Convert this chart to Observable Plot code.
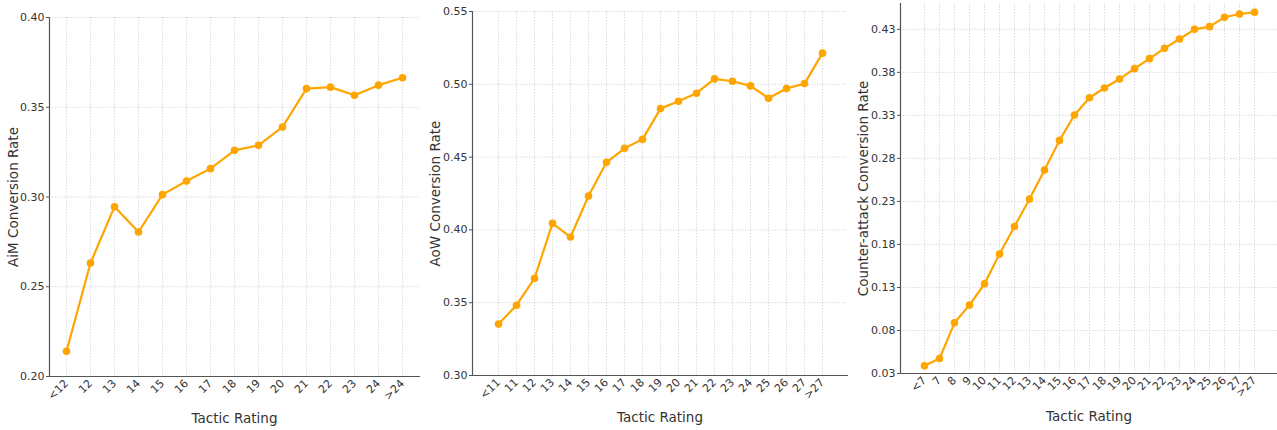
<!DOCTYPE html>
<html>
<head>
<meta charset="utf-8">
<script src="https://cdn.jsdelivr.net/npm/d3@7"></script>
<script src="https://cdn.jsdelivr.net/npm/@observablehq/plot@0.6"></script>
<style>
  html, body { margin: 0; padding: 0; background: #fff; }
  #wrap { position: relative; width: 1277px; height: 430px; overflow: hidden; }
  #wrap > svg { position: absolute; top: 0; }
</style>
</head>
<body>
<div id="wrap"></div>
<script>
// ---- Data ----
const aimCategories = ["<12","12","13","14","15","16","17","18","19","20","21","22","23","24",">24"];
const aimValues = [0.2141,0.2632,0.2946,0.2805,0.3013,0.3089,0.3158,0.3260,0.3288,0.3390,0.3604,0.3612,0.3567,0.3623,0.3664];
const aimTicks = [0.20,0.25,0.30,0.35,0.40];

const aowCategories = ["<11","11","12","13","14","15","16","17","18","19","20","21","22","23","24","25","26","27",">27"];
const aowValues = [0.3353,0.3483,0.3667,0.4045,0.3951,0.4233,0.4464,0.4560,0.4622,0.4833,0.4884,0.4939,0.5037,0.5021,0.4989,0.4904,0.4971,0.5005,0.5214];
const aowTicks = [0.30,0.35,0.40,0.45,0.50,0.55];

const caCategories = ["<7","7","8","9","10","11","12","13","14","15","16","17","18","19","20","21","22","23","24","25","26","27",">27"];
const caValues = [0.0389,0.0474,0.0889,0.1095,0.1343,0.1688,0.2009,0.2327,0.2664,0.3009,0.3304,0.3505,0.3618,0.3722,0.3843,0.3959,0.4079,0.4188,0.4300,0.4331,0.4440,0.4478,0.4498];
const caTicks = [0.03,0.08,0.13,0.18,0.23,0.28,0.33,0.38,0.43];

const xLabel = "Tactic Rating";

const panels = [
  {cats: aimCategories, vals: aimValues, ticks: aimTicks, yDomain: [0.20, 0.40], yLabel: "AiM Conversion Rate",
   left: 0, width: 425, mL: 49, mR: 6, mT: 17, mB: 54, pad: 0.7, yLabDx: -36, xLabDy: 42},
  {cats: aowCategories, vals: aowValues, ticks: aowTicks, yDomain: [0.30, 0.55], yLabel: "AoW Conversion Rate",
   left: 425, width: 425, mL: 47, mR: 3, mT: 11, mB: 55, pad: 0.9, yLabDx: -37, xLabDy: 42},
  {cats: caCategories, vals: caValues, ticks: caTicks, yDomain: [0.03, 0.46], yLabel: "Counter-attack Conversion Rate",
   left: 850, width: 427, mL: 50, mR: 0, mT: 3, mB: 57, pad: 1.1, yLabDx: -37, xLabDy: 43}
];

const wrap = document.getElementById("wrap");
for (const p of panels) {
  const data = p.cats.map((c, i) => ({cat: c, val: p.vals[i]}));
  const chart = Plot.plot({
    width: p.width,
    height: 430,
    marginLeft: p.mL, marginRight: p.mR, marginTop: p.mT, marginBottom: p.mB,
    style: {fontFamily: "DejaVu Sans, sans-serif", fontSize: "11px", color: "#333", background: "transparent"},
    x: {type: "point", domain: p.cats, padding: p.pad},
    y: {domain: p.yDomain},
    marks: [
      Plot.gridX(p.cats, {stroke: "#c8c8c8", strokeOpacity: 0.8, strokeDasharray: "1.5,1.5", strokeWidth: 0.8}),
      Plot.gridY(p.ticks, {stroke: "#c8c8c8", strokeOpacity: 0.8, strokeDasharray: "1.5,1.5", strokeWidth: 0.8}),
      Plot.axisY(p.ticks, {tickSize: 3, tickPadding: 2, tickFormat: d3.format(".2f"), label: null, stroke: "#555", fill: "#333", fontSize: 11}),
      Plot.axisX(p.cats, {tickSize: 0, tickPadding: 5, tickRotate: -45, label: null, fill: "#333", fontSize: 11}),
      Plot.frame({anchor: "left", stroke: "#555", strokeWidth: 1.2}),
      Plot.frame({anchor: "bottom", stroke: "#555", strokeWidth: 1.2}),
      Plot.lineY(data, {x: "cat", y: "val", stroke: "#FFA500", strokeWidth: 2.2}),
      Plot.dot(data, {x: "cat", y: "val", fill: "#FFA500", r: 3.8}),
      Plot.text([p.yLabel], {frameAnchor: "left", dx: p.yLabDx, rotate: -90, textAnchor: "middle", lineAnchor: "middle", fontSize: 13.5, fill: "#333", text: d => d}),
      Plot.text([xLabel], {frameAnchor: "bottom", dy: p.xLabDy, textAnchor: "middle", lineAnchor: "middle", fontSize: 13.5, fill: "#333", text: d => d})
    ]
  });
  chart.style.left = p.left + "px";
  wrap.appendChild(chart);
}
</script>
</body>
</html>
